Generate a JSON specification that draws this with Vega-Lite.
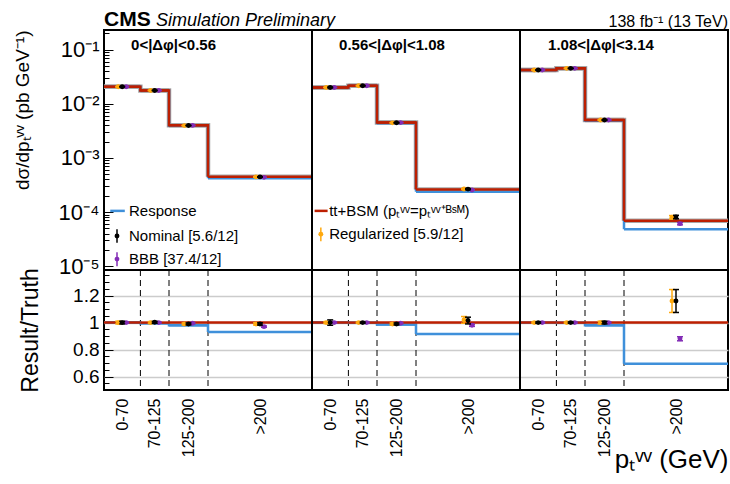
{
"$schema": "https://vega.github.io/schema/vega-lite/v6.json",
"padding": {"left": 12, "top": 8, "right": 5, "bottom": 0},
"spacing": 0,
"bounds": "flush",
"config": {
  "font": "Liberation Sans",
  "view": {"stroke": "black", "strokeWidth": 2},
  "axis": {"domain": false, "labelColor": "black", "titleColor": "black", "titleFontWeight": "normal", "tickColor": "black", "labelFont": "Liberation Sans", "titleFont": "Liberation Sans"},
  "text": {"font": "Liberation Sans", "color": "black"}
},
"datasets": {
  "hist": [
    {"panel":1,"lo":0,"hi":70,"series":"Truth","xsec":0.0206,"ratio":1},
    {"panel":1,"lo":70,"hi":125,"series":"Truth","xsec":0.0176,"ratio":1},
    {"panel":1,"lo":125,"hi":200,"series":"Truth","xsec":0.0040,"ratio":1},
    {"panel":1,"lo":200,"hi":400,"series":"Truth","xsec":0.00045,"ratio":1},
    {"panel":2,"lo":400,"hi":470,"series":"Truth","xsec":0.0200,"ratio":1},
    {"panel":2,"lo":470,"hi":525,"series":"Truth","xsec":0.0215,"ratio":1},
    {"panel":2,"lo":525,"hi":600,"series":"Truth","xsec":0.0045,"ratio":1},
    {"panel":2,"lo":600,"hi":800,"series":"Truth","xsec":0.00026,"ratio":1},
    {"panel":3,"lo":800,"hi":870,"series":"Truth","xsec":0.042,"ratio":1},
    {"panel":3,"lo":870,"hi":925,"series":"Truth","xsec":0.045,"ratio":1},
    {"panel":3,"lo":925,"hi":1000,"series":"Truth","xsec":0.0050,"ratio":1},
    {"panel":3,"lo":1000,"hi":1200,"series":"Truth","xsec":0.000069,"ratio":1},
    {"panel":1,"lo":0,"hi":70,"series":"Response","xsec":0.0206,"ratio":1.0},
    {"panel":1,"lo":70,"hi":125,"series":"Response","xsec":0.0175,"ratio":0.995},
    {"panel":1,"lo":125,"hi":200,"series":"Response","xsec":0.00392,"ratio":0.98},
    {"panel":1,"lo":200,"hi":400,"series":"Response","xsec":0.00042,"ratio":0.93},
    {"panel":2,"lo":400,"hi":470,"series":"Response","xsec":0.0200,"ratio":1.0},
    {"panel":2,"lo":470,"hi":525,"series":"Response","xsec":0.0215,"ratio":0.998},
    {"panel":2,"lo":525,"hi":600,"series":"Response","xsec":0.00443,"ratio":0.985},
    {"panel":2,"lo":600,"hi":800,"series":"Response","xsec":0.000238,"ratio":0.916},
    {"panel":3,"lo":800,"hi":870,"series":"Response","xsec":0.042,"ratio":0.998},
    {"panel":3,"lo":870,"hi":925,"series":"Response","xsec":0.045,"ratio":0.998},
    {"panel":3,"lo":925,"hi":1000,"series":"Response","xsec":0.0049,"ratio":0.98},
    {"panel":3,"lo":1000,"hi":1200,"series":"Response","xsec":0.000048,"ratio":0.694}
  ],
  "pts": [
    {"panel":1,"x":35,"series":"Nominal","xsec":0.0206,"xlo":0.0203,"xhi":0.0209,"ratio":1.0,"rlo":0.99,"rhi":1.01},
    {"panel":1,"x":35,"series":"Regularized","xsec":0.0206,"xlo":0.0203,"xhi":0.0209,"ratio":1.0,"rlo":0.99,"rhi":1.01},
    {"panel":1,"x":35,"series":"BBB","xsec":0.0206,"xlo":0.0204,"xhi":0.0208,"ratio":1.0,"rlo":0.995,"rhi":1.005},
    {"panel":1,"x":97.5,"series":"Nominal","xsec":0.0176,"xlo":0.0174,"xhi":0.0178,"ratio":1.002,"rlo":0.995,"rhi":1.009},
    {"panel":1,"x":97.5,"series":"Regularized","xsec":0.0176,"xlo":0.0174,"xhi":0.0178,"ratio":1.0,"rlo":0.993,"rhi":1.007},
    {"panel":1,"x":97.5,"series":"BBB","xsec":0.0176,"xlo":0.0174,"xhi":0.0178,"ratio":1.0,"rlo":0.995,"rhi":1.005},
    {"panel":1,"x":162.5,"series":"Nominal","xsec":0.00396,"xlo":0.00392,"xhi":0.0040,"ratio":0.99,"rlo":0.983,"rhi":0.997},
    {"panel":1,"x":162.5,"series":"Regularized","xsec":0.00395,"xlo":0.00391,"xhi":0.00399,"ratio":0.99,"rlo":0.983,"rhi":0.997},
    {"panel":1,"x":162.5,"series":"BBB","xsec":0.00398,"xlo":0.00394,"xhi":0.00402,"ratio":0.995,"rlo":0.99,"rhi":1.0},
    {"panel":1,"x":300,"series":"Nominal","xsec":0.000445,"xlo":0.00044,"xhi":0.00045,"ratio":0.99,"rlo":0.982,"rhi":0.998},
    {"panel":1,"x":300,"series":"Regularized","xsec":0.000445,"xlo":0.00044,"xhi":0.00045,"ratio":0.99,"rlo":0.982,"rhi":0.998},
    {"panel":1,"x":300,"series":"BBB","xsec":0.000437,"xlo":0.000433,"xhi":0.000441,"ratio":0.97,"rlo":0.965,"rhi":0.975},
    {"panel":2,"x":435,"series":"Nominal","xsec":0.0200,"xlo":0.0196,"xhi":0.0204,"ratio":1.0,"rlo":0.98,"rhi":1.02},
    {"panel":2,"x":435,"series":"Regularized","xsec":0.0200,"xlo":0.0198,"xhi":0.0202,"ratio":1.0,"rlo":0.993,"rhi":1.007},
    {"panel":2,"x":435,"series":"BBB","xsec":0.0200,"xlo":0.0198,"xhi":0.0202,"ratio":1.0,"rlo":0.995,"rhi":1.005},
    {"panel":2,"x":497.5,"series":"Nominal","xsec":0.0215,"xlo":0.0213,"xhi":0.0217,"ratio":1.0,"rlo":0.995,"rhi":1.005},
    {"panel":2,"x":497.5,"series":"Regularized","xsec":0.0215,"xlo":0.0213,"xhi":0.0217,"ratio":1.0,"rlo":0.995,"rhi":1.005},
    {"panel":2,"x":497.5,"series":"BBB","xsec":0.0215,"xlo":0.0213,"xhi":0.0217,"ratio":1.0,"rlo":0.995,"rhi":1.005},
    {"panel":2,"x":562.5,"series":"Nominal","xsec":0.00445,"xlo":0.0044,"xhi":0.0045,"ratio":0.99,"rlo":0.983,"rhi":0.997},
    {"panel":2,"x":562.5,"series":"Regularized","xsec":0.00444,"xlo":0.0044,"xhi":0.00448,"ratio":0.99,"rlo":0.983,"rhi":0.997},
    {"panel":2,"x":562.5,"series":"BBB","xsec":0.00448,"xlo":0.00444,"xhi":0.00452,"ratio":0.995,"rlo":0.99,"rhi":1.0},
    {"panel":2,"x":700,"series":"Nominal","xsec":0.000265,"xlo":0.000258,"xhi":0.000272,"ratio":1.015,"rlo":0.99,"rhi":1.04},
    {"panel":2,"x":700,"series":"Regularized","xsec":0.000266,"xlo":0.00026,"xhi":0.000272,"ratio":1.02,"rlo":0.995,"rhi":1.045},
    {"panel":2,"x":700,"series":"BBB","xsec":0.000255,"xlo":0.000252,"xhi":0.000258,"ratio":0.98,"rlo":0.972,"rhi":0.988},
    {"panel":3,"x":835,"series":"Nominal","xsec":0.042,"xlo":0.0416,"xhi":0.0424,"ratio":1.0,"rlo":0.995,"rhi":1.005},
    {"panel":3,"x":835,"series":"Regularized","xsec":0.042,"xlo":0.0416,"xhi":0.0424,"ratio":1.0,"rlo":0.995,"rhi":1.005},
    {"panel":3,"x":835,"series":"BBB","xsec":0.042,"xlo":0.0416,"xhi":0.0424,"ratio":1.0,"rlo":0.995,"rhi":1.005},
    {"panel":3,"x":897.5,"series":"Nominal","xsec":0.045,"xlo":0.0446,"xhi":0.0454,"ratio":1.0,"rlo":0.995,"rhi":1.005},
    {"panel":3,"x":897.5,"series":"Regularized","xsec":0.045,"xlo":0.0446,"xhi":0.0454,"ratio":1.0,"rlo":0.995,"rhi":1.005},
    {"panel":3,"x":897.5,"series":"BBB","xsec":0.045,"xlo":0.0446,"xhi":0.0454,"ratio":1.0,"rlo":0.995,"rhi":1.005},
    {"panel":3,"x":962.5,"series":"Nominal","xsec":0.005,"xlo":0.00495,"xhi":0.00505,"ratio":1.0,"rlo":0.99,"rhi":1.01},
    {"panel":3,"x":962.5,"series":"Regularized","xsec":0.005,"xlo":0.00495,"xhi":0.00505,"ratio":1.0,"rlo":0.99,"rhi":1.01},
    {"panel":3,"x":962.5,"series":"BBB","xsec":0.005,"xlo":0.00497,"xhi":0.00503,"ratio":1.0,"rlo":0.995,"rhi":1.005},
    {"panel":3,"x":1100,"series":"Nominal","xsec":0.000081,"xlo":0.000075,"xhi":0.000087,"ratio":1.16,"rlo":1.075,"rhi":1.245},
    {"panel":3,"x":1100,"series":"Regularized","xsec":0.00008,"xlo":0.000074,"xhi":0.000086,"ratio":1.16,"rlo":1.075,"rhi":1.245},
    {"panel":3,"x":1100,"series":"BBB","xsec":0.000061,"xlo":0.000058,"xhi":0.000064,"ratio":0.88,"rlo":0.865,"rhi":0.895}
  ],
  "edges": [
    {"edge":70},{"edge":125},{"edge":200},{"edge":470},{"edge":525},{"edge":600},{"edge":870},{"edge":925},{"edge":1000}
  ]
},
"vconcat": [
{
  "width": 624, "height": 240,
  "layer": [
    {"data":{"name":"hist"},"transform":[{"filter":"datum.series=='Truth'"}],
     "encoding":{"x":{"field":"lo","type":"quantitative","axis":null,"scale":{"domain":[0,1200],"nice":false,"zero":false}},
                 "y":{"field":"xsec","type":"quantitative","scale":{"type":"log","domain":[8.5e-6,0.23],"nice":false},
                      "axis":{"values":[0.000009,0.00001,0.00002,0.00003,0.00004,0.00005,0.00006,0.00007,0.00008,0.00009,0.0001,0.0002,0.0003,0.0004,0.0005,0.0006,0.0007,0.0008,0.0009,0.001,0.002,0.003,0.004,0.005,0.006,0.007,0.008,0.009,0.01,0.02,0.03,0.04,0.05,0.06,0.07,0.08,0.09,0.1,0.2],"tickCount":100,
                              "labelExpr":"abs(log(datum.value)/LN10 - round(log(datum.value)/LN10)) > 0.01 ? '' : datum.value > 0.05 ? '10⁻¹' : datum.value > 0.005 ? '10⁻²' : datum.value > 0.0005 ? '10⁻³' : datum.value > 0.00005 ? '10⁻⁴' : '10⁻⁵'",
                              "tickSize":{"condition":{"test":"abs(log(datum.value)/LN10 - round(log(datum.value)/LN10)) < 0.01","value":-9},"value":-5},
                              "labelFontSize":22,"labelOverlap":false,"labelFlush":false,"labelPadding":14,"grid":false,"title":"dσ/dpₜᵛᵛ (pb GeV⁻¹)","titleFontSize":19,"titleAnchor":"end","titlePadding":26}}},
     "layer":[
       {"mark":{"type":"line","interpolate":"step-after","color":"#a8a8a8","strokeWidth":4.5},"encoding":{"detail":{"field":"panel","type":"nominal"}}},
       {"mark":{"type":"rule","color":"#a8a8a8","strokeWidth":4.5},"encoding":{"x2":{"field":"hi"}}}
     ]},
    {"data":{"name":"hist"},"transform":[{"filter":"datum.series=='Response'"}],
     "encoding":{"x":{"field":"lo","type":"quantitative","axis":null},"y":{"field":"xsec","type":"quantitative"}},
     "layer":[
       {"mark":{"type":"line","interpolate":"step-after","color":"#3f90da","strokeWidth":2.5},"encoding":{"detail":{"field":"panel","type":"nominal"}}},
       {"mark":{"type":"rule","color":"#3f90da","strokeWidth":2.5},"encoding":{"x2":{"field":"hi"}}}
     ]},
    {"data":{"name":"hist"},"transform":[{"filter":"datum.series=='Truth'"}],
     "encoding":{"x":{"field":"lo","type":"quantitative","axis":null},"y":{"field":"xsec","type":"quantitative"}},
     "layer":[
       {"mark":{"type":"line","interpolate":"step-after","color":"#bd1f01","strokeWidth":2.5},"encoding":{"detail":{"field":"panel","type":"nominal"}}},
       {"mark":{"type":"rule","color":"#bd1f01","strokeWidth":2.5},"encoding":{"x2":{"field":"hi"}}}
     ]},
    {"data":{"name":"pts"},"transform":[{"filter":"datum.series=='Regularized'"}],
     "encoding":{"x":{"field":"x","type":"quantitative","axis":null}},
     "layer":[
       {"mark":{"type":"rule","color":"#ffa90e","strokeWidth":1.5,"xOffset":-4},"encoding":{"y":{"field":"xlo","type":"quantitative"},"y2":{"field":"xhi"}}},
       {"mark":{"type":"tick","orient":"horizontal","color":"#ffa90e","size":6,"thickness":1.5,"opacity":1,"xOffset":-4},"encoding":{"y":{"field":"xlo","type":"quantitative"}}},
       {"mark":{"type":"tick","orient":"horizontal","color":"#ffa90e","size":6,"thickness":1.5,"opacity":1,"xOffset":-4},"encoding":{"y":{"field":"xhi","type":"quantitative"}}},
       {"mark":{"type":"circle","color":"#ffa90e","size":24,"opacity":1,"xOffset":-4},"encoding":{"y":{"field":"xsec","type":"quantitative"}}}
     ]},
    {"data":{"name":"pts"},"transform":[{"filter":"datum.series=='BBB'"}],
     "encoding":{"x":{"field":"x","type":"quantitative","axis":null}},
     "layer":[
       {"mark":{"type":"rule","color":"#832db6","strokeWidth":1.5,"xOffset":4},"encoding":{"y":{"field":"xlo","type":"quantitative"},"y2":{"field":"xhi"}}},
       {"mark":{"type":"tick","orient":"horizontal","color":"#832db6","size":6,"thickness":1.5,"opacity":1,"xOffset":4},"encoding":{"y":{"field":"xlo","type":"quantitative"}}},
       {"mark":{"type":"tick","orient":"horizontal","color":"#832db6","size":6,"thickness":1.5,"opacity":1,"xOffset":4},"encoding":{"y":{"field":"xhi","type":"quantitative"}}},
       {"mark":{"type":"circle","color":"#832db6","size":24,"opacity":1,"xOffset":4},"encoding":{"y":{"field":"xsec","type":"quantitative"}}}
     ]},
    {"data":{"name":"pts"},"transform":[{"filter":"datum.series=='Nominal'"}],
     "encoding":{"x":{"field":"x","type":"quantitative","axis":null}},
     "layer":[
       {"mark":{"type":"rule","color":"black","strokeWidth":1.5},"encoding":{"y":{"field":"xlo","type":"quantitative"},"y2":{"field":"xhi"}}},
       {"mark":{"type":"tick","orient":"horizontal","color":"black","size":6,"thickness":1.5,"opacity":1},"encoding":{"y":{"field":"xlo","type":"quantitative"}}},
       {"mark":{"type":"tick","orient":"horizontal","color":"black","size":6,"thickness":1.5,"opacity":1},"encoding":{"y":{"field":"xhi","type":"quantitative"}}},
       {"mark":{"type":"circle","color":"black","size":24,"opacity":1},"encoding":{"y":{"field":"xsec","type":"quantitative"}}}
     ]},
    {"data":{"values":[{}]},"mark":{"type":"rule","color":"black","strokeWidth":2},"encoding":{"x":{"datum":400,"axis":null}}},
    {"data":{"values":[{}]},"mark":{"type":"rule","color":"black","strokeWidth":2},"encoding":{"x":{"datum":800,"axis":null}}},
    {"data":{"values":[{}]},"mark":{"type":"text","text":"CMS","fontWeight":"bold","fontSize":21,"align":"left","baseline":"alphabetic","dy":-4},"encoding":{"x":{"datum":0,"axis":null},"y":{"datum":0.23}}},
    {"data":{"values":[{}]},"mark":{"type":"text","text":"Simulation  Preliminary","fontStyle":"italic","fontSize":18,"align":"left","baseline":"alphabetic","dy":-4},"encoding":{"x":{"datum":100,"axis":null},"y":{"datum":0.23}}},
    {"data":{"values":[{}]},"mark":{"type":"text","text":"138 fb⁻¹ (13 TeV)","fontSize":16,"align":"right","baseline":"alphabetic","dy":-3},"encoding":{"x":{"datum":1200,"axis":null},"y":{"datum":0.23}}},
    {"data":{"values":[{}]},"mark":{"type":"text","text":"0<|Δφ|<0.56","fontWeight":"bold","fontSize":15,"align":"left","baseline":"alphabetic"},"encoding":{"x":{"datum":52,"axis":null},"y":{"datum":0.1}}},
    {"data":{"values":[{}]},"mark":{"type":"text","text":"0.56<|Δφ|<1.08","fontWeight":"bold","fontSize":15,"align":"left","baseline":"alphabetic"},"encoding":{"x":{"datum":452,"axis":null},"y":{"datum":0.1}}},
    {"data":{"values":[{}]},"mark":{"type":"text","text":"1.08<|Δφ|<3.14","fontWeight":"bold","fontSize":15,"align":"left","baseline":"alphabetic"},"encoding":{"x":{"datum":854,"axis":null},"y":{"datum":0.1}}},
    {"data":{"values":[{}]},"mark":{"type":"rule","color":"#3f90da","strokeWidth":2.5},"encoding":{"x":{"datum":12,"axis":null},"x2":{"datum":40},"y":{"datum":0.000105}}},
    {"data":{"values":[{}]},"mark":{"type":"text","text":"Response","fontSize":15,"align":"left","baseline":"middle"},"encoding":{"x":{"datum":48,"axis":null},"y":{"datum":0.000105}}},
    {"data":{"values":[{}]},"mark":{"type":"rule","color":"#bd1f01","strokeWidth":2.5},"encoding":{"x":{"datum":405,"axis":null},"x2":{"datum":430},"y":{"datum":0.000105}}},
    {"data":{"values":[{}]},"mark":{"type":"text","text":"tt+BSM (pₜᵛᵛ=pₜᵛᵛ⁺ᴮˢᴹ)","fontSize":15,"align":"left","baseline":"middle"},"encoding":{"x":{"datum":433,"axis":null},"y":{"datum":0.000105}}},
    {"data":{"values":[{}]},"mark":{"type":"rule","color":"black","strokeWidth":1.5},"encoding":{"x":{"datum":25,"axis":null},"y":{"datum":0.000027},"y2":{"datum":0.000048}}},
    {"data":{"values":[{}]},"mark":{"type":"circle","color":"black","size":24,"opacity":1},"encoding":{"x":{"datum":25,"axis":null},"y":{"datum":0.000036}}},
    {"data":{"values":[{}]},"mark":{"type":"text","text":"Nominal [5.6/12]","fontSize":15,"align":"left","baseline":"middle"},"encoding":{"x":{"datum":48,"axis":null},"y":{"datum":0.000036}}},
    {"data":{"values":[{}]},"mark":{"type":"rule","color":"#ffa90e","strokeWidth":1.5},"encoding":{"x":{"datum":417,"axis":null},"y":{"datum":0.000029},"y2":{"datum":0.000052}}},
    {"data":{"values":[{}]},"mark":{"type":"circle","color":"#ffa90e","size":24,"opacity":1},"encoding":{"x":{"datum":417,"axis":null},"y":{"datum":0.000039}}},
    {"data":{"values":[{}]},"mark":{"type":"text","text":"Regularized [5.9/12]","fontSize":15,"align":"left","baseline":"middle"},"encoding":{"x":{"datum":433,"axis":null},"y":{"datum":0.000039}}},
    {"data":{"values":[{}]},"mark":{"type":"rule","color":"#832db6","strokeWidth":1.5},"encoding":{"x":{"datum":25,"axis":null},"y":{"datum":0.00001},"y2":{"datum":0.000018}}},
    {"data":{"values":[{}]},"mark":{"type":"circle","color":"#832db6","size":24,"opacity":1},"encoding":{"x":{"datum":25,"axis":null},"y":{"datum":0.0000135}}},
    {"data":{"values":[{}]},"mark":{"type":"text","text":"BBB [37.4/12]","fontSize":15,"align":"left","baseline":"middle"},"encoding":{"x":{"datum":48,"axis":null},"y":{"datum":0.0000135}}}
  ]
},
{
  "width": 624, "height": 120,
  "layer": [
    {"data":{"name":"edges"},"mark":{"type":"rule","color":"black","strokeWidth":1,"strokeDash":[6,4]},
     "encoding":{"x":{"field":"edge","type":"quantitative","scale":{"domain":[0,1200],"nice":false,"zero":false},
       "axis":{"values":[35,97.5,162.5,300,435,497.5,562.5,700,835,897.5,962.5,1100],"tickCount":30,"labelExpr":"datum.value % 400 == 35 ? '0-70' : datum.value % 400 == 97.5 ? '70-125' : datum.value % 400 == 162.5 ? '125-200' : '>200'","labelAngle":270,"labelFontSize":16,"labelPadding":8,"ticks":false,"grid":false,"labelFlush":false,"labelOverlap":false,"title":"pₜᵛᵛ (GeV)","titleFontSize":26,"titleAnchor":"end","titleAlign":"right","titleBaseline":"top","titleX":624,"titleY":56}}}},
    {"data":{"name":"hist"},"transform":[{"filter":"datum.series=='Response'"}],
     "encoding":{"x":{"field":"lo","type":"quantitative"},
                 "y":{"field":"ratio","type":"quantitative","scale":{"domain":[0.5,1.39],"nice":false,"zero":false},
                      "axis":{"values":[0.55,0.6,0.65,0.7,0.75,0.8,0.85,0.9,0.95,1,1.05,1.1,1.15,1.2,1.25,1.3,1.35],"tickCount":100,
                              "labelExpr":"abs(datum.value*5 - round(datum.value*5)) < 0.01 ? format(datum.value,'~g') : ''",
                              "tickSize":{"condition":{"test":"abs(datum.value*5 - round(datum.value*5)) < 0.01","value":-9},"value":-5},
                              "gridOpacity":{"condition":{"test":"abs(datum.value*5 - round(datum.value*5)) < 0.01","value":1},"value":0},
                              "labelFontSize":19,"labelFlush":false,"labelOverlap":false,"labelPadding":14,"grid":true,"gridColor":"#cccccc","gridWidth":1.5,"title":"Result/Truth","titleFontSize":23,"titlePadding":30}}},
     "layer":[
       {"mark":{"type":"line","interpolate":"step-after","color":"#3f90da","strokeWidth":2.5},"encoding":{"detail":{"field":"panel","type":"nominal"}}},
       {"mark":{"type":"rule","color":"#3f90da","strokeWidth":2.5},"encoding":{"x2":{"field":"hi"}}}
     ]},
    {"data":{"name":"hist"},"transform":[{"filter":"datum.series=='Truth'"}],
     "mark":{"type":"rule","color":"#bd1f01","strokeWidth":2.5},
     "encoding":{"x":{"field":"lo","type":"quantitative"},"x2":{"field":"hi"},"y":{"field":"ratio","type":"quantitative"}}},
    {"data":{"name":"pts"},"transform":[{"filter":"datum.series=='Regularized'"}],
     "encoding":{"x":{"field":"x","type":"quantitative"}},
     "layer":[
       {"mark":{"type":"rule","color":"#ffa90e","strokeWidth":1.5,"xOffset":-4},"encoding":{"y":{"field":"rlo","type":"quantitative"},"y2":{"field":"rhi"}}},
       {"mark":{"type":"tick","orient":"horizontal","color":"#ffa90e","size":6,"thickness":1.5,"opacity":1,"xOffset":-4},"encoding":{"y":{"field":"rlo","type":"quantitative"}}},
       {"mark":{"type":"tick","orient":"horizontal","color":"#ffa90e","size":6,"thickness":1.5,"opacity":1,"xOffset":-4},"encoding":{"y":{"field":"rhi","type":"quantitative"}}},
       {"mark":{"type":"circle","color":"#ffa90e","size":24,"opacity":1,"xOffset":-4},"encoding":{"y":{"field":"ratio","type":"quantitative"}}}
     ]},
    {"data":{"name":"pts"},"transform":[{"filter":"datum.series=='BBB'"}],
     "encoding":{"x":{"field":"x","type":"quantitative"}},
     "layer":[
       {"mark":{"type":"rule","color":"#832db6","strokeWidth":1.5,"xOffset":4},"encoding":{"y":{"field":"rlo","type":"quantitative"},"y2":{"field":"rhi"}}},
       {"mark":{"type":"tick","orient":"horizontal","color":"#832db6","size":6,"thickness":1.5,"opacity":1,"xOffset":4},"encoding":{"y":{"field":"rlo","type":"quantitative"}}},
       {"mark":{"type":"tick","orient":"horizontal","color":"#832db6","size":6,"thickness":1.5,"opacity":1,"xOffset":4},"encoding":{"y":{"field":"rhi","type":"quantitative"}}},
       {"mark":{"type":"circle","color":"#832db6","size":24,"opacity":1,"xOffset":4},"encoding":{"y":{"field":"ratio","type":"quantitative"}}}
     ]},
    {"data":{"name":"pts"},"transform":[{"filter":"datum.series=='Nominal'"}],
     "encoding":{"x":{"field":"x","type":"quantitative"}},
     "layer":[
       {"mark":{"type":"rule","color":"black","strokeWidth":1.5},"encoding":{"y":{"field":"rlo","type":"quantitative"},"y2":{"field":"rhi"}}},
       {"mark":{"type":"tick","orient":"horizontal","color":"black","size":6,"thickness":1.5,"opacity":1},"encoding":{"y":{"field":"rlo","type":"quantitative"}}},
       {"mark":{"type":"tick","orient":"horizontal","color":"black","size":6,"thickness":1.5,"opacity":1},"encoding":{"y":{"field":"rhi","type":"quantitative"}}},
       {"mark":{"type":"circle","color":"black","size":24,"opacity":1},"encoding":{"y":{"field":"ratio","type":"quantitative"}}}
     ]},
    {"data":{"values":[{}]},"mark":{"type":"rule","color":"black","strokeWidth":2},"encoding":{"x":{"datum":400}}},
    {"data":{"values":[{}]},"mark":{"type":"rule","color":"black","strokeWidth":2},"encoding":{"x":{"datum":800}}}
  ]
}
]
}
